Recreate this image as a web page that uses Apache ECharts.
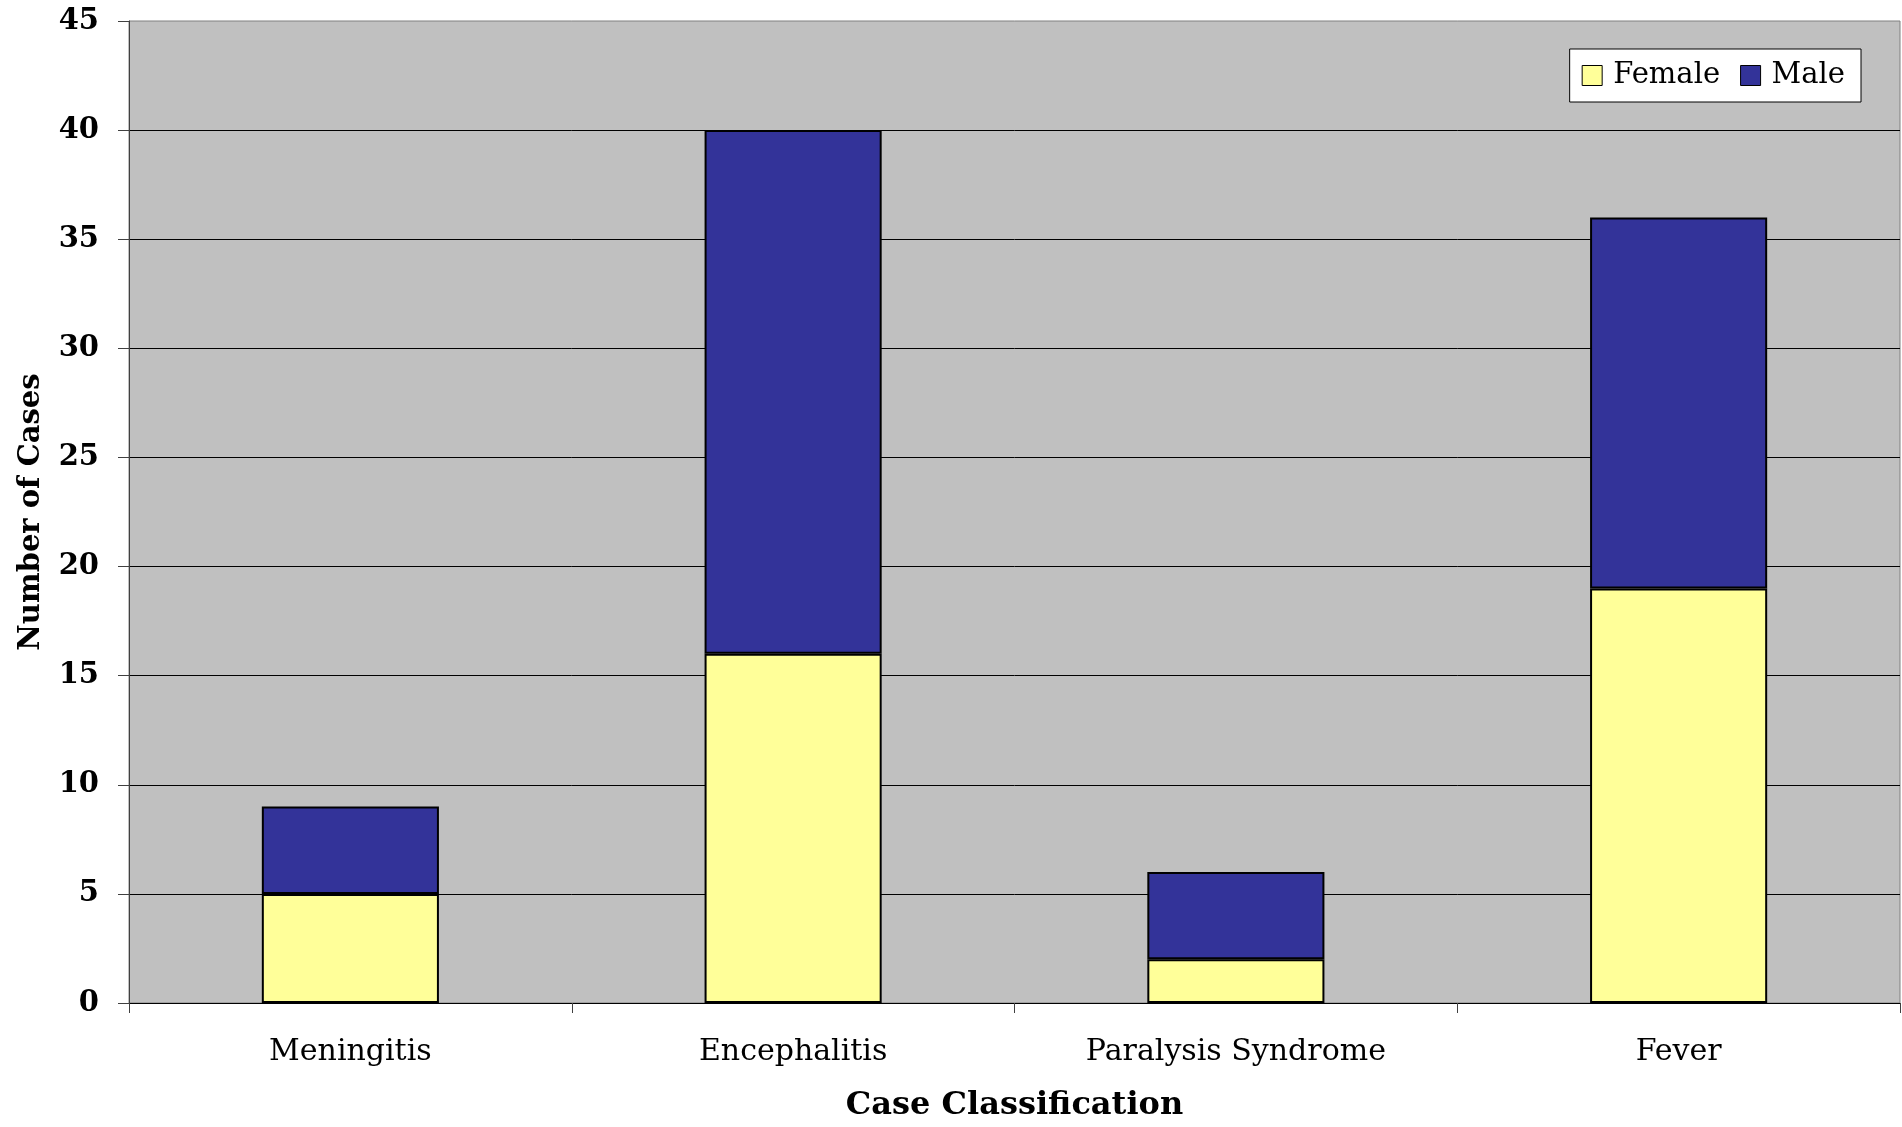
<!DOCTYPE html>
<html>
<head>
<meta charset="utf-8">
<script src="https://cdn.jsdelivr.net/npm/echarts@6/dist/echarts.min.js"></script>
<style>
  html, body { margin: 0; padding: 0; background: #ffffff; }
  #chart { width: 1902px; height: 1127px; }
</style>
</head>
<body>
<div id="chart"></div>
<script>
// Case counts by classification, split by sex
const categories = ['Meningitis', 'Encephalitis', 'Paralysis Syndrome', 'Fever'];
const femaleCases = [5, 16, 2, 19];
const maleCases = [4, 24, 4, 17];
const yTicks = { min: 0, max: 45, interval: 5 };

const FONT = '"DejaVu Serif", "Liberation Serif", serif';

const chart = echarts.init(document.getElementById('chart'), null, { renderer: 'canvas' });

chart.setOption({
  backgroundColor: '#ffffff',
  animation: false,
  grid: {
    left: 129, right: 2, top: 21, bottom: 124,
    show: true,
    backgroundColor: '#c0c0c0',
    borderColor: '#808080',
    borderWidth: 1
  },
  legend: {
    right: 41, top: 49,
    orient: 'horizontal',
    backgroundColor: '#ffffff',
    borderColor: '#000000',
    borderWidth: 1,
    borderRadius: 0,
    padding: [12, 16, 12, 12],
    itemGap: 20,
    itemWidth: 20,
    itemHeight: 20,
    icon: 'rect',
    itemStyle: { borderColor: '#000000', borderWidth: 1 },
    textStyle: { fontFamily: FONT, fontSize: 29, color: '#000000', padding: [0, 0, 0, 6] },
    data: ['Female', 'Male']
  },
  xAxis: {
    type: 'category',
    data: categories,
    name: 'Case Classification',
    nameLocation: 'middle',
    nameGap: 87,
    nameTextStyle: { fontFamily: FONT, fontSize: 32, fontWeight: 'bold', color: '#000000' },
    axisLine: { show: true, lineStyle: { color: '#000000', width: 1 } },
    axisTick: { show: true, length: 10, lineStyle: { color: '#404040' } },
    axisLabel: { fontFamily: FONT, fontSize: 30, color: '#000000', margin: 34 },
    splitLine: { show: false }
  },
  yAxis: {
    type: 'value',
    min: yTicks.min, max: yTicks.max, interval: yTicks.interval,
    name: 'Number of Cases',
    nameLocation: 'middle',
    nameRotate: 90,
    nameGap: 83,
    nameTextStyle: { fontFamily: FONT, fontSize: 29, fontWeight: 'bold', color: '#000000' },
    axisLine: { show: true, lineStyle: { color: '#404040', width: 1 } },
    axisTick: { show: true, length: 11, lineStyle: { color: '#404040' } },
    axisLabel: { fontFamily: FONT, fontSize: 29, fontWeight: 'bold', color: '#000000', margin: 30 },
    splitLine: { show: true, showMaxLine: false, lineStyle: { color: '#000000', width: 1 } }
  },
  series: [
    {
      name: 'Female',
      type: 'bar',
      stack: 'cases',
      barWidth: '40%',
      data: femaleCases,
      itemStyle: { color: '#ffff99', borderColor: '#000000', borderWidth: 2 }
    },
    {
      name: 'Male',
      type: 'bar',
      stack: 'cases',
      barWidth: '40%',
      data: maleCases,
      itemStyle: { color: '#333399', borderColor: '#000000', borderWidth: 2 }
    }
  ]
});
</script>
</body>
</html>
